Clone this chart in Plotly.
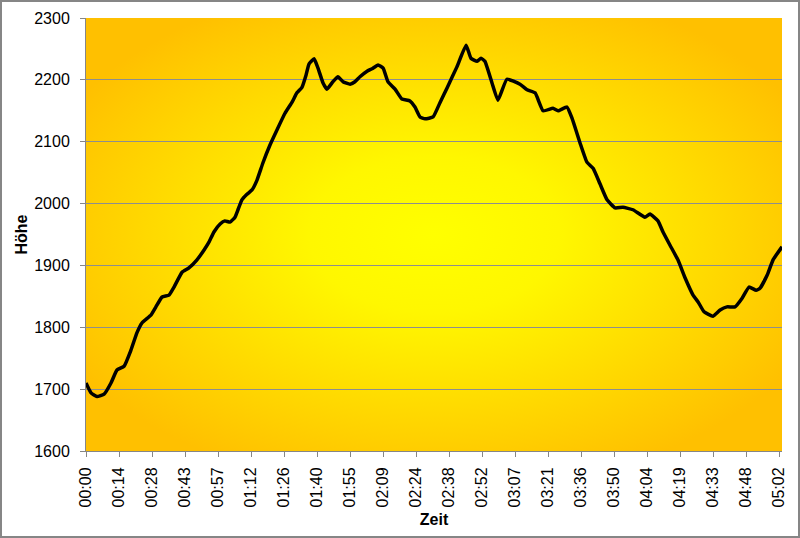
import base64
import plotly.graph_objects as go

# --- data (minutes since start, height) ---
minutes = [0, 2.2, 4.8, 7.9, 10.9, 13.5, 16.6, 19.6, 22.2, 24.4, 28.4, 30.5, 33.2, 36.2,
           38.4, 41.9, 44.9, 48.4, 51.5, 53.7, 55.8, 58.5, 60.6, 62.8, 65.0, 66.3, 68.0,
           70.2, 72.4, 74.6, 77.2, 80.3, 83.3, 86.8, 89.9, 92.0, 94.2, 96.0, 97.3, 99.5,
           101.2, 103.4, 105.1, 107.7, 109.9, 112.1, 115.2, 117.3, 119.5, 122.6, 124.8,
           127.4, 129.6, 131.7, 134.8, 137.8, 141.3, 143.5, 145.7, 147.9, 151.4, 154.4,
           157.5, 161.8, 165.8, 167.9, 170.6, 172.3, 174.0, 177.1, 179.7, 183.6, 189.3,
           192.4, 195.9, 199.4, 203.7, 205.9, 209.8, 212.0, 215.5, 218.5, 221.2, 224.2,
           227.3, 230.8, 234.2, 238.6, 243.8, 246.0, 249.5, 251.7, 254.7, 258.2, 261.3,
           264.8, 267.0, 269.6, 273.5, 276.6, 279.6, 283.1, 286.2, 289.2, 292.3, 294.0,
           297.1, 299.7, 303.6]
hoehe = [1710, 1694, 1688, 1692, 1710, 1731, 1737, 1763, 1791, 1807, 1820, 1833, 1849, 1852,
         1865, 1889, 1896, 1909, 1925, 1938, 1954, 1967, 1972, 1970, 1978, 1990, 2006,
         2015, 2022, 2038, 2066, 2095, 2119, 2146, 2164, 2179, 2188, 2208, 2226, 2234,
         2219, 2195, 2185, 2197, 2205, 2197, 2193, 2197, 2205, 2214, 2218,
         2224, 2219, 2197, 2185, 2169, 2166, 2156, 2140, 2137, 2140, 2163,
         2187, 2221, 2256, 2235, 2230, 2235, 2230, 2195, 2167, 2201, 2193,
         2184, 2179, 2150, 2154, 2150, 2156, 2138, 2098, 2067, 2057, 2032,
         2006, 1993, 1994, 1990, 1978, 1983, 1972, 1954, 1933, 1909, 1880,
         1852, 1841, 1825, 1818, 1828, 1833, 1833, 1847, 1865, 1860, 1863,
         1884, 1909, 1930]

tick_labels = ["00:00", "00:14", "00:28", "00:43", "00:57", "01:12", "01:26", "01:40",
               "01:55", "02:09", "02:24", "02:38", "02:52", "03:07", "03:21", "03:36",
               "03:50", "04:04", "04:19", "04:33", "04:48", "05:02"]
tick_step_min = 14.4
y_ticks = [1600, 1700, 1800, 1900, 2000, 2100, 2200, 2300]

# --- background gradient (yellow centre -> orange edges) ---
svg = ('<svg xmlns="http://www.w3.org/2000/svg" width="696" height="433" '
       'preserveAspectRatio="none" viewBox="0 0 696 433">'
       '<defs><radialGradient id="g" cx="0.5" cy="0.5" r="0.6">'
       '<stop offset="0" stop-color="#FFFF00"/>'
       '<stop offset="0.3" stop-color="#FFF700"/>'
       '<stop offset="1" stop-color="#FFC000"/>'
       '</radialGradient></defs>'
       '<rect width="696" height="433" fill="url(#g)"/></svg>')
src = "data:image/svg+xml;base64," + base64.b64encode(svg.encode()).decode()

fig = go.Figure()
fig.add_trace(go.Scatter(x=minutes, y=hoehe, mode="lines",
                         line=dict(color="black", width=3.5, shape="spline", smoothing=0.4),
                         showlegend=False, hoverinfo="skip"))

FONT = "Liberation Sans, Arial, sans-serif"
FS = 16
W, H = 800, 538
L, R, T, B = 86, 18, 18, 87
pw, ph = W - L - R, H - T - B

fig.update_layout(
    width=W, height=H,
    margin=dict(l=L, r=R, t=T, b=B, pad=0, autoexpand=False),
    paper_bgcolor="white",
    plot_bgcolor="#FFD000",
    font=dict(family=FONT, size=FS, color="black"),
    images=[dict(source=src, xref="paper", yref="paper", x=0, y=1,
                 sizex=1, sizey=1, sizing="stretch", layer="below",
                 xanchor="left", yanchor="top")],
    shapes=[dict(type="rect", xref="paper", yref="paper",
                 x0=(1 - L) / pw, x1=(W - 1 - L) / pw,
                 y0=-(H - 1 - (T + ph)) / ph, y1=(T + ph - 1) / ph,
                 line=dict(color="#868686", width=2), fillcolor="rgba(0,0,0,0)",
                 layer="above")],
)

fig.update_xaxes(
    automargin=False,
    range=[0, minutes[-1]],
    tickmode="array",
    tickvals=[i * tick_step_min for i in range(len(tick_labels))],
    ticktext=tick_labels,
    tickangle=-90,
    ticks="outside", ticklen=5, tickcolor="#868686", tickwidth=1,
    ticklabelstandoff=4,
    showline=True, linecolor="#868686", linewidth=1,
    showgrid=False, zeroline=False,
    title=dict(text="<b>Zeit</b>", font=dict(size=FS, family=FONT), standoff=7),
)
fig.update_yaxes(
    automargin=False,
    range=[1600, 2300],
    tickmode="array", tickvals=y_ticks,
    ticks="outside", ticklen=5, tickcolor="#868686", tickwidth=1,
    ticklabelstandoff=7,
    showline=True, linecolor="#868686", linewidth=1,
    showgrid=True, gridcolor="#8E8E8E", gridwidth=1,
    zeroline=False,
    title=dict(text="<b>Höhe</b>", font=dict(size=FS, family=FONT), standoff=2),
)

fig.write_html("out.html")
